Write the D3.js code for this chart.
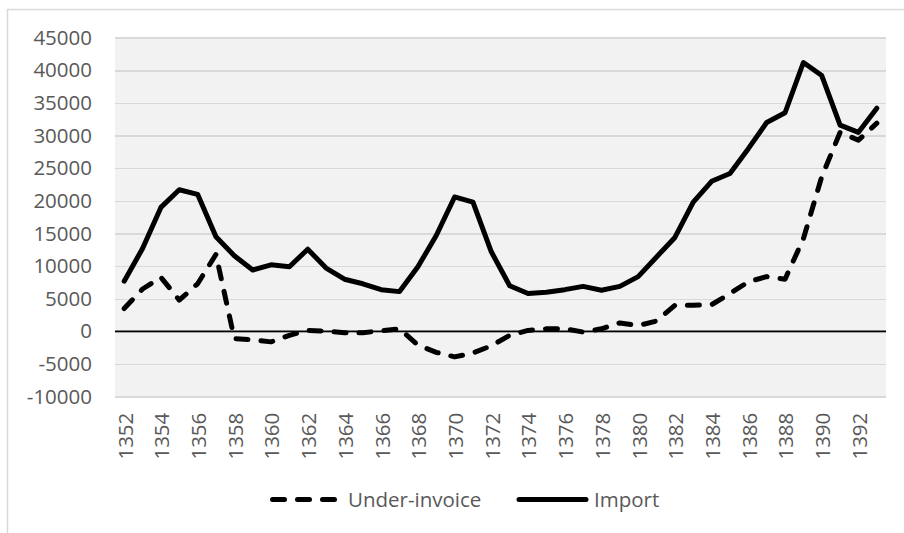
<!DOCTYPE html>
<html>
<head>
    <meta charset="utf-8">
    <title>Under-invoice and Import</title>
    <style>
        body { margin: 0; background: #fff; }
        text { font-family: "Open Sans", sans-serif; fill: #595959; }
        .axis path { display: none; }
        .grid line { stroke: #d9d9d9; stroke-width: 1.5px; shape-rendering: crispEdges; }
        .grid path { display: none; }
        path.line { fill: none; stroke: #000; stroke-width: 5px; stroke-linejoin: round; stroke-linecap: round; }
    </style>
    <script src="https://d3js.org/d3.v7.min.js"></script>
</head>
<body>
<div id="graph"></div>
<script>
    // years on the category axis
    var years = [1352, 1353, 1354, 1355, 1356, 1357, 1358, 1359, 1360, 1361,
                 1362, 1363, 1364, 1365, 1366, 1367, 1368, 1369, 1370, 1371,
                 1372, 1373, 1374, 1375, 1376, 1377, 1378, 1379, 1380, 1381,
                 1382, 1383, 1384, 1385, 1386, 1387, 1388, 1389, 1390, 1391,
                 1392, 1393];

    var underInvoice = [3500, 6500, 8300, 4800, 7300, 11800, -1100, -1300, -1600, -600,
                        150, 50, -200, -200, 100, 400, -2100, -3200, -3900, -3300,
                        -2200, -600, 150, 400, 400, -100, 400, 1300, 900, 1600,
                        4000, 4000, 4100, 5800, 7600, 8400, 8000, 14200, 23700, 30500,
                        29300, 31900];

    var importVals = [7700, 12700, 19000, 21700, 21000, 14500, 11600, 9400, 10200, 9900,
                      12600, 9700, 8000, 7300, 6400, 6100, 9900, 14700, 20600, 19800,
                      12200, 7000, 5800, 6000, 6400, 6900, 6300, 6900, 8400, 11400,
                      14400, 19800, 23000, 24200, 28000, 32000, 33500, 41200, 39200, 31600,
                      30500, 34200];

    var yTicks = [-10000, -5000, 0, 5000, 10000, 15000, 20000, 25000, 30000, 35000, 40000, 45000];
    var xTicks = [1352, 1354, 1356, 1358, 1360, 1362, 1364, 1366, 1368, 1370, 1372,
                  1374, 1376, 1378, 1380, 1382, 1384, 1386, 1388, 1390, 1392];

    var W = 904, H = 533;
    var plot = { left: 115, right: 886, top: 37.7, bottom: 396.7 };

    var svg = d3.select("#graph").append("svg")
        .attr("width", W)
        .attr("height", H);

    // chart area border
    svg.append("rect")
        .attr("x", 7.5).attr("y", 9.5)
        .attr("width", 1000).attr("height", 1000)
        .attr("fill", "#fff")
        .attr("stroke", "#d9d9d9")
        .attr("stroke-width", 1.5);

    var x = d3.scaleBand().domain(years).range([plot.left, plot.right]).padding(0);
    var y = d3.scaleLinear().domain([-10000, 45000]).range([plot.bottom, plot.top]);
    var cx = function(yr) { return x(yr) + x.bandwidth() / 2; };

    // plot area background
    svg.append("rect")
        .attr("x", plot.left).attr("y", plot.top)
        .attr("width", plot.right - plot.left)
        .attr("height", plot.bottom - plot.top)
        .attr("fill", "#f2f2f2");

    // gridlines
    svg.append("g")
        .attr("class", "grid")
        .attr("transform", "translate(" + plot.left + ",0)")
        .call(d3.axisLeft(y).tickValues(yTicks).tickSize(-(plot.right - plot.left)).tickFormat(""));

    // zero line
    svg.append("line")
        .attr("x1", plot.left).attr("x2", plot.right)
        .attr("y1", y(0)).attr("y2", y(0))
        .attr("stroke", "#000")
        .attr("stroke-width", 1.8);

    // y axis labels
    var yAxis = svg.append("g")
        .attr("class", "axis")
        .attr("transform", "translate(" + plot.left + ",0)")
        .call(d3.axisLeft(y).tickValues(yTicks).tickSize(0).tickPadding(23).tickFormat(function(d) { return String(d); }));
    yAxis.selectAll("text")
        .style("font-size", "20.5px")
        .style("font-family", "'Open Sans', sans-serif")
        .attr("fill", "#595959");

    // x axis labels (rotated)
    var xAxis = svg.append("g")
        .attr("class", "axis")
        .attr("transform", "translate(0," + plot.bottom + ")")
        .call(d3.axisBottom(x).tickValues(xTicks).tickSize(0));
    xAxis.selectAll("line").remove();
    xAxis.selectAll("text")
        .style("font-size", "20.5px")
        .style("font-family", "'Open Sans', sans-serif")
        .attr("fill", "#595959")
        .attr("text-anchor", "end")
        .attr("transform", "rotate(-90)")
        .attr("x", -16)
        .attr("y", 1)
        .attr("dy", "0.36em");

    var line = d3.line()
        .x(function(d) { return cx(d.year); })
        .y(function(d) { return y(d.value); });

    var series = [
        { name: "Under-invoice", values: underInvoice, dash: "12,13" },
        { name: "Import", values: importVals, dash: null }
    ];

    series.forEach(function(s) {
        var pts = years.map(function(yr, i) { return { year: yr, value: s.values[i] }; });
        svg.append("path")
            .datum(pts)
            .attr("class", "line")
            .attr("stroke-dasharray", s.dash)
            .attr("d", line);
    });

    // legend
    var legend = svg.append("g").attr("class", "legend");
    var legendItems = [
        { name: "Under-invoice", dash: "12,13", x1: 272.5, x2: 342, tx: 348 },
        { name: "Import", dash: null, x1: 519, x2: 586, tx: 594 }
    ];
    legendItems.forEach(function(it) {
        legend.append("line")
            .attr("x1", it.x1).attr("x2", it.x2)
            .attr("y1", 499.5).attr("y2", 499.5)
            .attr("stroke", "#000")
            .attr("stroke-width", 5)
            .attr("stroke-linecap", "round")
            .attr("stroke-dasharray", it.dash);
        legend.append("text")
            .attr("x", it.tx)
            .attr("y", 507)
            .style("font-size", "20.5px")
            .text(it.name);
    });
</script>
</body>
</html>
